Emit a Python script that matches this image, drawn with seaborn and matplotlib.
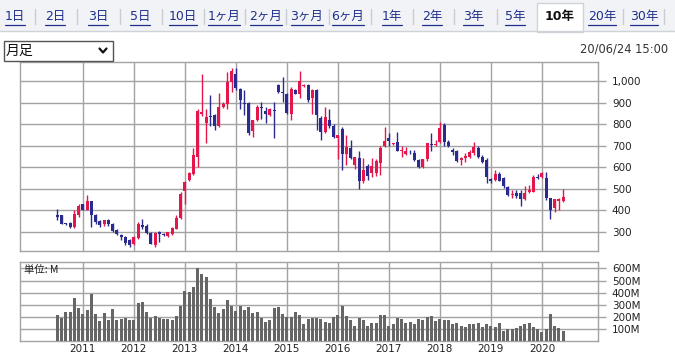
import numpy as np
import pandas as pd
import matplotlib
matplotlib.use("Agg")
import matplotlib.pyplot as plt
import seaborn as sns
from matplotlib.lines import Line2D
from matplotlib.patches import Rectangle

# ---------------- data ----------------
months = pd.date_range("2010-07-01", periods=120, freq="MS")
opens = [378, 377, 340, 341, 323, 378, 428, 402, 442, 380, 352, 335, 358, 338, 308, 284, 276, 265, 245, 270,
         334, 330, 296, 240, 300, 292, 283, 290, 316, 364, 493, 540, 571, 650, 850, 808, 840, 842, 791, 881,
         896, 997, 1036, 966, 902, 902, 769, 822, 880, 865, 842, 866, 984, 952, 943, 847, 961, 943, 981, 986,
         924, 961, 831, 767, 819, 795, 738, 777, 663, 692, 612, 646, 537, 607, 573, 573, 619, 700, 736, 710,
         717, 676, 661, 673, 669, 635, 604, 638, 707, 705, 720, 798, 720, 681, 678, 635, 643, 651, 666, 692,
         650, 635, 545, 542, 570, 550, 508, 472, 483, 483, 452, 488, 488, 557, 557, 550, 457, 411, 446, 446]
highs = [405, 380, 343, 345, 402, 432, 432, 470, 445, 385, 358, 358, 362, 342, 312, 290, 280, 268, 280, 346,
         361, 335, 300, 300, 305, 296, 302, 322, 377, 485, 538, 580, 692, 870, 1033, 873, 935, 848, 947, 905,
         1043, 1064, 1064, 970, 961, 905, 822, 890, 904, 881, 875, 904, 990, 1020, 946, 974, 965, 1048, 990, 990,
         965, 965, 840, 880, 872, 800, 752, 790, 751, 728, 650, 678, 642, 615, 642, 640, 700, 790, 762, 715,
         767, 700, 697, 680, 681, 640, 640, 716, 759, 728, 813, 805, 728, 689, 682, 650, 666, 681, 720, 700,
         658, 643, 550, 587, 580, 557, 512, 495, 495, 495, 514, 517, 565, 572, 580, 580, 460, 455, 460, 498]
lows = [355, 335, 332, 320, 320, 372, 400, 400, 323, 335, 325, 330, 330, 300, 285, 262, 238, 232, 240, 266,
        315, 290, 242, 230, 253, 280, 278, 286, 312, 360, 431, 535, 565, 600, 840, 713, 795, 775, 788, 875,
        873, 950, 960, 873, 842, 750, 741, 818, 826, 806, 838, 738, 945, 904, 850, 822, 940, 924, 975, 905,
        850, 773, 730, 760, 785, 735, 640, 590, 612, 640, 592, 498, 530, 542, 556, 560, 565, 695, 700, 705,
        675, 647, 657, 665, 632, 596, 596, 632, 678, 700, 715, 700, 695, 658, 627, 612, 627, 643, 660, 643,
        619, 526, 530, 538, 535, 503, 467, 457, 460, 421, 448, 480, 485, 545, 550, 450, 359, 395, 402, 440]
closes = [370, 338, 335, 325, 382, 420, 402, 442, 380, 346, 332, 354, 336, 305, 292, 277, 250, 240, 276, 338,
          324, 296, 246, 296, 292, 287, 298, 318, 364, 478, 532, 574, 656, 865, 858, 834, 835, 791, 881, 896,
          997, 1051, 969, 912, 896, 760, 819, 881, 875, 847, 870, 861, 950, 945, 854, 966, 943, 1002, 986, 912,
          961, 842, 764, 834, 795, 741, 749, 661, 697, 646, 647, 537, 588, 561, 607, 630, 692, 723, 723, 713,
          678, 682, 677, 670, 635, 601, 638, 712, 703, 710, 782, 717, 700, 674, 632, 643, 653, 674, 697, 647,
          627, 558, 539, 570, 539, 514, 472, 477, 467, 452, 480, 495, 557, 550, 576, 457, 402, 452, 452, 464]
volumes = [215, 193, 237, 237, 358, 275, 223, 256, 388, 223, 168, 229, 174, 264, 174, 182, 193, 174, 174, 311,
           320, 237, 193, 204, 187, 182, 182, 174, 204, 289, 413, 402, 444, 606, 554, 529, 347, 281, 231, 264,
           339, 289, 251, 289, 256, 278, 231, 240, 193, 160, 174, 275, 281, 223, 198, 198, 240, 215, 140, 182,
           193, 193, 182, 160, 149, 198, 215, 292, 207, 174, 127, 193, 174, 127, 149, 149, 215, 215, 124, 143,
           193, 182, 152, 160, 140, 182, 174, 201, 207, 168, 185, 174, 174, 143, 152, 127, 118, 143, 143, 152,
           118, 140, 127, 118, 149, 83, 99, 99, 107, 127, 143, 152, 118, 99, 77, 99, 223, 127, 107, 83]

price_ticks = [300, 400, 500, 600, 700, 800, 900, 1000]
price_labels = ["300", "400", "500", "600", "700", "800", "900", "1,000"]
volume_ticks = [100, 200, 300, 400, 500, 600]
volume_labels = ["100M", "200M", "300M", "400M", "500M", "600M"]
year_labels = ["2011", "2012", "2013", "2014", "2015", "2016", "2017", "2018", "2019", "2020"]
tab_labels = ["1日", "2日", "3日", "5日", "10日", "1ヶ月", "2ヶ月", "3ヶ月", "6ヶ月",
              "1年", "2年", "3年", "5年", "10年", "20年", "30年"]
selected_tab = "10年"
period_label = "月足"
timestamp = "20/06/24 15:00"
unit_label = "単位: M"

# ---------------- style ----------------
sns.set_style("white")
plt.rcParams['font.family'] = ['DejaVu Sans', 'Noto Sans CJK JP']
plt.rcParams['axes.unicode_minus'] = False

W, H = 675, 355
fig = plt.figure(figsize=(W / 100, H / 100), dpi=100)
fig.patch.set_facecolor("white")


def fx(px):
    return px / W


def fy(py):
    return 1 - py / H


GRID = "#a3a3a3"
RED = "#e3174b"
BLUE = "#2b2a8e"
LINK = "#1f2f8c"

df = pd.DataFrame({"month": months, "open": opens, "high": highs, "low": lows,
                   "close": closes, "volume": volumes})
df["idx"] = np.arange(len(df))
df["up"] = df["close"] >= df["open"]
df["color"] = np.where(df["up"], RED, BLUE)
year_pos = df.loc[df["month"].dt.month == 1, "idx"].to_numpy()

x_lo, x_hi = -8.78, 127.2

# ---------------- price panel ----------------
ax = fig.add_axes([fx(20), fy(251), (598 - 20) / W, (251 - 62) / H])
ax.set_axisbelow(True)
ax.vlines(df["idx"], df["low"], df["high"], colors=df["color"], lw=1.0, zorder=3)
body_bottom = np.minimum(df["open"], df["close"])
body_h = np.maximum(np.abs(df["close"] - df["open"]), 3)
ax.bar(df["idx"], body_h, bottom=body_bottom, width=0.72, color=df["color"],
       linewidth=0, zorder=4)
ax.set_xlim(x_lo, x_hi)
ax.set_ylim(211.6, 1090.7)
ax.set_xticks(year_pos)
ax.set_yticks(price_ticks)
ax.set_yticklabels(price_labels)
ax.yaxis.tick_right()
ax.grid(True, color=GRID, lw=1.0)
ax.tick_params(axis="x", length=0, labelbottom=False)
ax.tick_params(axis="y", length=6, width=1, color=GRID, labelsize=7.5, pad=4,
               labelcolor="#222222")
for s in ax.spines.values():
    s.set_color(GRID)
    s.set_linewidth(1.0)

# ---------------- volume panel ----------------
axv = fig.add_axes([fx(20), fy(341), (598 - 20) / W, (341 - 262) / H])
axv.set_axisbelow(True)
sns.barplot(data=df, x="idx", y="volume", native_scale=True, color="#666666",
            saturation=1, width=0.72, linewidth=0, ax=axv, zorder=3)
axv.set_xlim(x_lo, x_hi)
axv.set_ylim(0, 653)
axv.set_xlabel("")
axv.set_ylabel("")
axv.set_xticks(year_pos)
axv.set_xticklabels(year_labels)
axv.set_yticks(volume_ticks)
axv.set_yticklabels(volume_labels)
axv.yaxis.tick_right()
axv.grid(True, color=GRID, lw=1.0)
axv.tick_params(axis="x", length=0, labelsize=7.5, pad=2, labelcolor="#222222")
axv.tick_params(axis="y", length=6, width=1, color=GRID, labelsize=7.5, pad=4,
                labelcolor="#222222")
for s in axv.spines.values():
    s.set_color(GRID)
    s.set_linewidth(1.0)
axv.text(fx(24), fy(270), unit_label, transform=fig.transFigure, fontsize=7.5,
         va="center", ha="left", color="#222222",
         family=['Noto Sans CJK JP', 'DejaVu Sans'], zorder=6)

# ---------------- header: tabs ----------------
fig.add_artist(Rectangle((0, fy(31)), 1, 31 / H, transform=fig.transFigure,
                         facecolor="#f1f3f6", edgecolor="none", zorder=0))
fig.add_artist(Line2D([0, 1], [fy(31), fy(31)], transform=fig.transFigure,
                      color="#cfd3d8", lw=1))
tab_x = [15, 55, 98, 140, 183, 224, 266, 307, 348, 392, 432, 473, 515, 560, 602, 644]
sep_x = [35, 77, 120, 162, 204, 245, 286, 329, 371, 413, 454, 497, 623, 664]
sel_i = tab_labels.index(selected_tab)
fig.add_artist(Rectangle((fx(537), fy(32)), (583 - 537) / W, (32 - 3) / H,
                         transform=fig.transFigure, facecolor="white",
                         edgecolor="#cfd3d8", lw=1, zorder=1))
for sx in sep_x:
    fig.add_artist(Line2D([fx(sx), fx(sx)], [fy(9), fy(24)], transform=fig.transFigure,
                          color="#c9ccd1", lw=1))
tab_texts = []
for i, (lab, tx) in enumerate(zip(tab_labels, tab_x)):
    if i == sel_i:
        t = fig.text(fx(tx), fy(16.5), lab, ha="center", va="center", fontsize=9,
                     color="#111111", fontweight="bold",
                     family=['DejaVu Sans', 'Noto Sans CJK JP'], zorder=3)
    else:
        t = fig.text(fx(tx), fy(16.5), lab, ha="center", va="center", fontsize=9,
                     color=LINK, family=['DejaVu Sans', 'Noto Sans CJK JP'], zorder=3)
        tab_texts.append(t)

# dropdown and timestamp
fig.add_artist(Rectangle((fx(3.5), fy(60.5)), (113 - 3.5) / W, (60.5 - 41.5) / H,
                         transform=fig.transFigure, facecolor="white",
                         edgecolor="#555555", lw=1, zorder=2))
fig.text(fx(6), fy(51), period_label, ha="left", va="center", fontsize=10,
         color="#111111", family=['Noto Sans CJK JP', 'DejaVu Sans'], zorder=3)
fig.add_artist(Line2D([fx(99.5), fx(103), fx(106.5)], [fy(48.5), fy(52.5), fy(48.5)],
                      transform=fig.transFigure, color="#111111", lw=1.6, zorder=3))
fig.text(fx(668), fy(49), timestamp, ha="right", va="center", fontsize=8.3,
         color="#333333", zorder=3)

# underline links
fig.canvas.draw()
renderer = fig.canvas.get_renderer()
for t in tab_texts:
    bb = t.get_window_extent(renderer)
    y = H - 24.5
    fig.add_artist(Line2D([bb.x0 / W, bb.x1 / W], [y / H, y / H],
                          transform=fig.transFigure, color=LINK, lw=0.9, zorder=4))

fig.savefig("out.png", dpi=100, facecolor="white")
